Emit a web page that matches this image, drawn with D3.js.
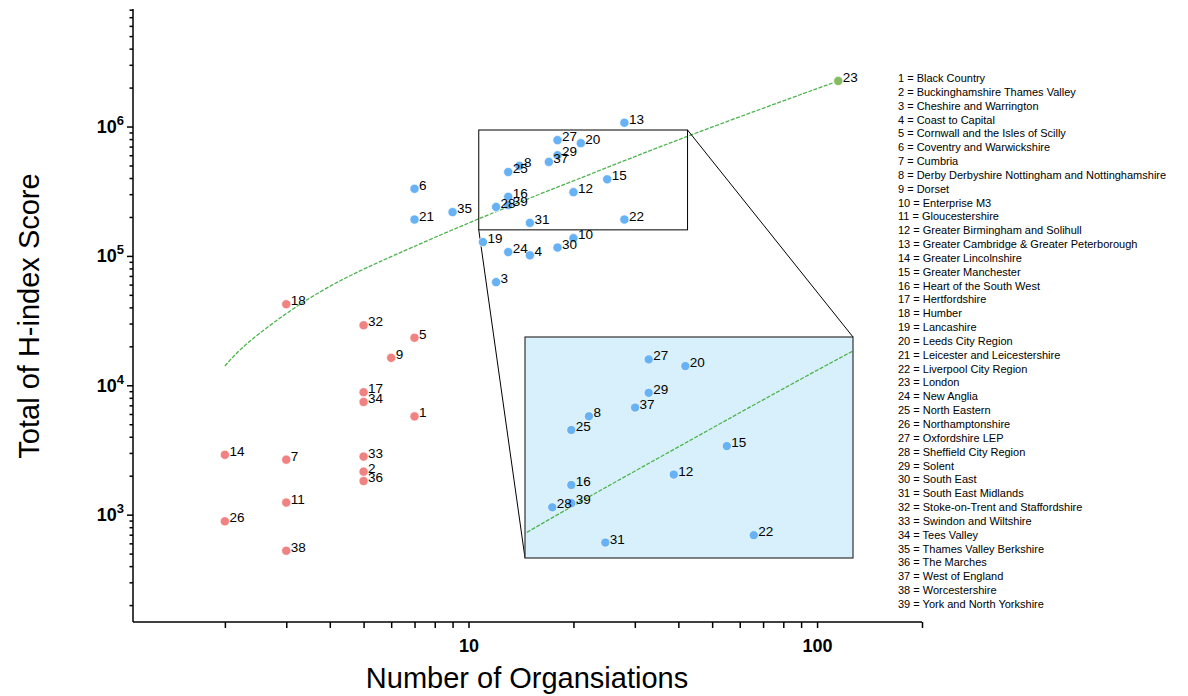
<!DOCTYPE html>
<html lang="en">
<head>
<meta charset="UTF-8">
<title>H-index by LEP</title>
<style>
    body { margin: 0; background: #fff; }
    text { font-family: "Liberation Sans", Arial, Helvetica, sans-serif; }
    .axis path, .axis line { stroke: #000; stroke-width: 1.5px; }
    .tick-lab { font-weight: bold; font-size: 18px; }
    .pt-lab { font-size: 13.5px; fill: #000; }
    .legend { font-size: 11px; fill: #000; }
</style>
</head>
<body>
<script src="https://d3js.org/d3.v7.min.js"></script>
<script>
// LEP names (index + 1 = label number)
var names = ["Black Country", "Buckinghamshire Thames Valley", "Cheshire and Warrington", "Coast to Capital",
    "Cornwall and the Isles of Scilly", "Coventry and Warwickshire", "Cumbria",
    "Derby Derbyshire Nottingham and Nottinghamshire", "Dorset", "Enterprise M3", "Gloucestershire",
    "Greater Birmingham and Solihull", "Greater Cambridge & Greater Peterborough", "Greater Lincolnshire",
    "Greater Manchester", "Heart of the South West", "Hertfordshire", "Humber", "Lancashire",
    "Leeds City Region", "Leicester and Leicestershire", "Liverpool City Region", "London", "New Anglia",
    "North Eastern", "Northamptonshire", "Oxfordshire LEP", "Sheffield City Region", "Solent", "South East",
    "South East Midlands", "Stoke-on-Trent and Staffordshire", "Swindon and Wiltshire", "Tees Valley",
    "Thames Valley Berkshire", "The Marches", "West of England", "Worcestershire", "York and North Yorkshire"];

// number of organisations per LEP
var orgs = [7, 5, 12, 15, 7, 7, 3, 14, 6, 20, 3, 20, 28, 2, 25, 13, 5, 3, 11, 21,
    7, 28, 115, 13, 13, 2, 18, 12, 18, 18, 15, 5, 5, 5, 9, 5, 17, 3, 13];

// total H-index score per LEP
var hindex = [5750, 2150, 62700, 101000, 23300, 330000, 2660, 497000, 16300, 137000,
    1240, 311000, 1070000, 2900, 391000, 286000, 8830, 42300, 128000, 744000,
    191000, 191000, 2250000, 107000, 445000, 888, 785000, 239000, 600000, 116000,
    180000, 29100, 2810, 7430, 218000, 1820, 533000, 526, 247000];

// cluster of each LEP (0 = low, 1 = mid, 2 = London)
var cluster = [0, 0, 1, 1, 0, 1, 0, 1, 0, 1, 0, 1, 1, 0, 1, 1, 0, 0, 1, 1,
    1, 1, 2, 1, 1, 0, 1, 1, 1, 1, 1, 0, 0, 0, 1, 0, 1, 0, 1];

// fitted trend
var trendN = [2, 2.26, 3.22, 4.38, 5.84, 10.7, 20.1, 43, 115];
var trendH = [14100, 20500, 41800, 67300, 95900, 196000, 382000, 862000, 2250000];

// axis ticks
var xTicks = [2, 3, 4, 5, 6, 7, 8, 9, 10, 20, 30, 40, 50, 60, 70, 80, 90, 100, 200];
var xLabels = [10, 100];
var yMajor = [3, 4, 5, 6];

// zoomed region shown in the inset
var zoomN = [10.7, 42.5];
var zoomH = [159000, 940000];

var colors = ["#f08282", "#66b2f5", "#86bb63"];

var W = 1188, H = 696;
var svg = d3.select("body").append("svg").attr("width", W).attr("height", H);

var x = d3.scaleLog().domain([1.09, 200]).range([133, 922]);
var y = d3.scaleLog().domain([148, 8.1e6]).range([622, 9]);

var data = names.map(function(n, i) {
    return {id: i + 1, name: n, n: orgs[i], h: hindex[i], c: cluster[i]};
});

// y ticks: 2..9 x 10^k
var yTicks = [];
[100, 1000, 10000, 100000, 1000000].forEach(function(b) {
    for (var k = 1; k < 10; k++) {
        var v = b * k;
        if (v >= 200 && v <= 8e6) yTicks.push(v);
    }
});

var gx = svg.append("g").attr("class", "axis")
    .attr("transform", "translate(0,622)")
    .call(d3.axisBottom(x).tickValues(xTicks).tickSizeOuter(0).tickSize(6)
        .tickFormat(function(d) { return xLabels.indexOf(d) >= 0 ? d : ""; }));
gx.selectAll("text").attr("class", "tick-lab").attr("dy", "1.15em")
    .style("font-family", "'Liberation Sans Narrow', 'Liberation Sans', Arial, sans-serif");
gx.select(".domain").attr("d", "M133,0H922");

var gy = svg.append("g").attr("class", "axis")
    .attr("transform", "translate(133,0)")
    .call(d3.axisLeft(y).tickValues(yTicks).tickSizeOuter(0).tickFormat(""));
gy.selectAll(".tick line").attr("x2", function(d) {
    return yMajor.indexOf(Math.round(Math.log10(d) * 1000) / 1000) >= 0 ? -6 : -3.5;
});
gy.select(".domain").attr("d", "M0,622V9");

// power-of-ten labels
yMajor.forEach(function(e) {
    var t = svg.append("text").attr("class", "tick-lab")
        .attr("x", 124).attr("y", y(Math.pow(10, e)) + 6.5)
        .attr("text-anchor", "end");
    t.append("tspan").text("10");
    t.append("tspan").attr("dy", -8).style("font-size", "13px").text(e);
});

// axis titles
svg.append("text").attr("x", 527).attr("y", 688)
    .attr("text-anchor", "middle").style("font-size", "29px")
    .text("Number of Organsiations");
svg.append("text")
    .attr("transform", "translate(39,316) rotate(-90)")
    .attr("text-anchor", "middle").style("font-size", "29px")
    .text("Total of H-index Score");

var trend = trendN.map(function(d, i) { return [d, trendH[i]]; });

function drawTrend(g, sx, sy) {
    g.append("path").datum(trend)
        .attr("fill", "none").attr("stroke", "#4fb34f").attr("stroke-width", 1.3)
        .attr("stroke-dasharray", "4,1.5")
        .attr("d", d3.line().x(function(d) { return sx(d[0]); })
            .y(function(d) { return sy(d[1]); }).curve(d3.curveBasis));
}

function drawPoints(g, pts, sx, sy) {
    g.selectAll("circle.pt").data(pts).enter().append("circle")
        .attr("class", "pt")
        .attr("cx", function(d) { return sx(d.n); })
        .attr("cy", function(d) { return sy(d.h); })
        .attr("r", 4.6)
        .attr("fill", function(d) { return colors[d.c]; })
        .attr("stroke", "#fff").attr("stroke-width", 0.7);
    g.selectAll("text.pt-lab").data(pts).enter().append("text")
        .attr("class", "pt-lab")
        .attr("x", function(d) { return sx(d.n) + 4.5; })
        .attr("y", function(d) { return sy(d.h) + 1; })
        .text(function(d) { return d.id; });
}

// main trend
drawTrend(svg.append("g"), x, y);

// zoom box + connectors
var bx0 = x(zoomN[0]), bx1 = x(zoomN[1]), by0 = y(zoomH[1]), by1 = y(zoomH[0]);
var ins = {x0: 525, x1: 853, y0: 337, y1: 558};
svg.append("rect").attr("x", bx0).attr("y", by0)
    .attr("width", bx1 - bx0).attr("height", by1 - by0)
    .attr("fill", "none").attr("stroke", "#000").attr("stroke-width", 1);
svg.append("line").attr("x1", bx0).attr("y1", by1).attr("x2", ins.x0).attr("y2", ins.y1)
    .attr("stroke", "#000").attr("stroke-width", 1);
svg.append("line").attr("x1", bx1).attr("y1", by0).attr("x2", ins.x1).attr("y2", ins.y0)
    .attr("stroke", "#000").attr("stroke-width", 1);

// main points
drawPoints(svg.append("g"), data, x, y);

// inset
var ix = d3.scaleLog().domain(zoomN).range([ins.x0, ins.x1]);
var iy = d3.scaleLog().domain(zoomH).range([ins.y1, ins.y0]);
svg.append("clipPath").attr("id", "inclip").append("rect")
    .attr("x", ins.x0).attr("y", ins.y0)
    .attr("width", ins.x1 - ins.x0).attr("height", ins.y1 - ins.y0);
svg.append("rect").attr("x", ins.x0).attr("y", ins.y0)
    .attr("width", ins.x1 - ins.x0).attr("height", ins.y1 - ins.y0)
    .attr("fill", "#d7f0fb");
drawTrend(svg.append("g").attr("clip-path", "url(#inclip)"), ix, iy);
var inPts = data.filter(function(d) {
    return d.n >= zoomN[0] && d.n <= zoomN[1] && d.h >= zoomH[0] && d.h <= zoomH[1];
});
drawPoints(svg.append("g"), inPts, ix, iy);
svg.append("rect").attr("x", ins.x0).attr("y", ins.y0)
    .attr("width", ins.x1 - ins.x0).attr("height", ins.y1 - ins.y0)
    .attr("fill", "none").attr("stroke", "#333").attr("stroke-width", 1.2);

// legend
svg.append("g").selectAll("text").data(data).enter().append("text")
    .attr("class", "legend")
    .attr("x", 898)
    .attr("y", function(d, i) { return 82 + i * 13.84; })
    .text(function(d) { return d.id + " = " + d.name; });
</script>
</body>
</html>
